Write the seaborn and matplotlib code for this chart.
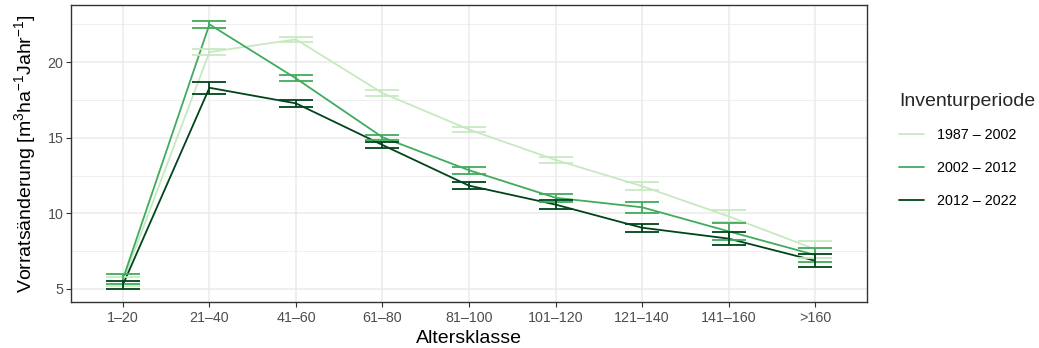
import numpy as np
import pandas as pd
import matplotlib
matplotlib.use("Agg")
import matplotlib.pyplot as plt
import seaborn as sns
from matplotlib.lines import Line2D

categories = ["1–20", "21–40", "41–60", "61–80", "81–100", "101–120", "121–140", "141–160", ">160"]
periods = ["1987 – 2002", "2002 – 2012", "2012 – 2022"]
colors = ["#c7e9c0", "#41ab5d", "#00441b"]

mean_1987 = [5.5, 20.66, 21.5, 17.95, 15.54, 13.53, 11.8, 9.8, 7.63]
err_1987 = [0.3, 0.2, 0.17, 0.18, 0.18, 0.2, 0.28, 0.4, 0.55]
mean_2002 = [5.66, 22.49, 18.92, 15.03, 12.85, 11.03, 10.4, 8.81, 7.25]
err_2002 = [0.34, 0.25, 0.2, 0.18, 0.22, 0.28, 0.36, 0.54, 0.44]
mean_2012 = [5.28, 18.3, 17.27, 14.52, 11.83, 10.58, 9.05, 8.33, 6.87]
err_2012 = [0.27, 0.41, 0.22, 0.22, 0.22, 0.29, 0.26, 0.42, 0.43]

means = [mean_1987, mean_2002, mean_2012]
errs = [err_1987, err_2002, err_2012]

rows = []
for p, m, e in zip(periods, means, errs):
    for i, c in enumerate(categories):
        rows.append({"Altersklasse": c, "pos": i, "Inventurperiode": p, "mean": m[i], "err": e[i]})
df = pd.DataFrame(rows)

sns.set_theme(style="white")
plt.rcParams["font.family"] = ["Liberation Sans", "DejaVu Sans"]
plt.rcParams["mathtext.default"] = "regular"

fig = plt.figure(figsize=(10.39, 3.48), dpi=100)
ax = fig.add_axes([71/1039, 1-302/348, (867-71)/1039, (302-5)/348])

# grid (theme_bw)
for v in [7.5, 12.5, 17.5, 22.5]:
    ax.axhline(v, color="#ebebeb", lw=0.55, zorder=0)
for v in [5, 10, 15, 20]:
    ax.axhline(v, color="#ebebeb", lw=1.1, zorder=0)
for i in range(len(categories)):
    ax.axvline(i, color="#ebebeb", lw=1.1, zorder=0)

pal = dict(zip(periods, colors))
sns.lineplot(data=df, x="pos", y="mean", hue="Inventurperiode", hue_order=periods,
             palette=pal, ax=ax, lw=1.3, legend=False, zorder=3)
for p in periods:
    sub = df[df["Inventurperiode"] == p]
    ax.errorbar(sub["pos"], sub["mean"], yerr=sub["err"], fmt="none",
                ecolor=pal[p], elinewidth=1.3, capsize=12.2, capthick=1.3, zorder=3)

ax.set_xlim(-0.6, 8.6)
ax.set_ylim(4.14, 23.77)
ax.set_xticks(range(len(categories)))
ax.set_xticklabels(categories)
ax.set_yticks([5, 10, 15, 20])
ax.tick_params(axis="both", which="major", length=3.5, width=0.8, color="#333333",
               labelsize=10.3, labelcolor="#4d4d4d", pad=2, bottom=True, left=True)
ax.tick_params(axis="x", pad=3.2)
for s in ax.spines.values():
    s.set_color("#333333")
    s.set_linewidth(1.0)
ax.set_xlabel("Altersklasse", fontsize=14, color="black", labelpad=3.5)
ax.set_ylabel("Vorratsänderung [m$^{3}$ha$^{-1}$Jahr$^{-1}$]", fontsize=14, color="black", labelpad=6.5)

handles = [Line2D([0], [0], color=c, lw=1.3) for c in colors]
leg = fig.legend(handles, periods, title="Inventurperiode", loc="upper left",
                 bbox_to_anchor=(886/1039, 1-80/348), frameon=False, fontsize=10.3,
                 title_fontsize=14, handlelength=1.75, handletextpad=0.9,
                 labelspacing=1.3, alignment="left")
for t in leg.get_texts():
    t.set_color("black")

fig.savefig("out.png", dpi=100)
